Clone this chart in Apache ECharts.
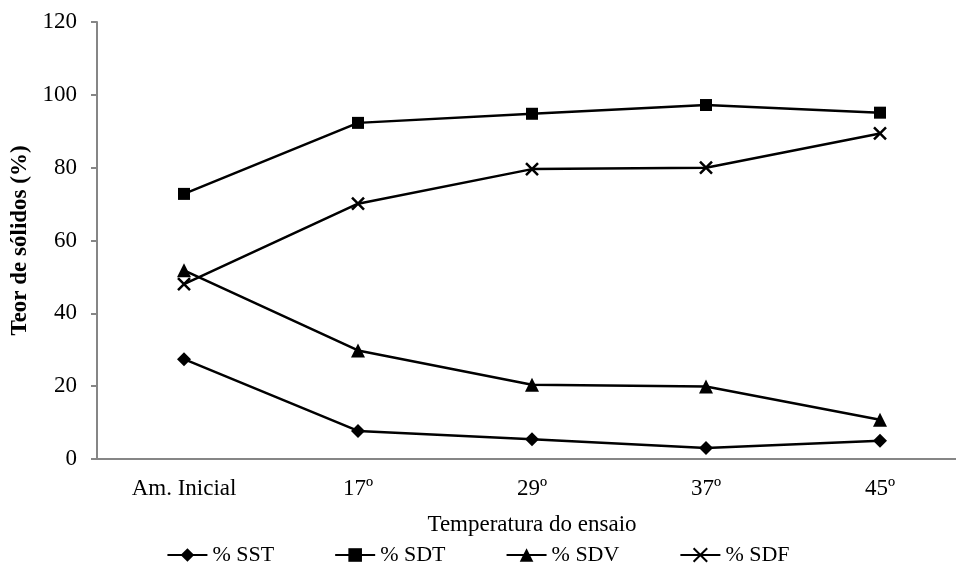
<!DOCTYPE html>
<html><head><meta charset="utf-8">
<script src="https://cdn.jsdelivr.net/npm/echarts@6/dist/echarts.min.js"></script>
<style>html,body{margin:0;padding:0;background:#fff}#c{width:956px;height:574px}</style>
</head><body><div id="c"></div>
<script>
var categories = ['Am. Inicial', '17º', '29º', '37º', '45º'];
var sst = [27.4, 7.7, 5.4, 3.0, 5.0];
var sdt = [72.8, 92.3, 94.8, 97.2, 95.1];
var sdv = [51.8, 29.8, 20.4, 19.9, 10.8];
var sdf = [48.0, 70.1, 79.6, 80.0, 89.4];
var seriesNames = ['% SST', '% SDT', '% SDV', '% SDF'];
var yTicks = {min: 0, max: 120, interval: 20};

var font = 'Liberation Serif';
var crossPath = 'path://M0,0 L10,10 M10,0 L0,10';
function mk(name, data, symbol, size, extra) {
  var s = {
    name: name, type: 'line', data: data, symbol: symbol, symbolSize: size,
    lineStyle: {color: '#000', width: 2.5}, itemStyle: {color: '#000'},
    emphasis: {disabled: true}, animation: false
  };
  if (extra) Object.assign(s, extra);
  return s;
}
var chart = echarts.init(document.getElementById('c'));
chart.setOption({
  animation: false,
  grid: {left: 97, right: -11, top: 22, bottom: 115, containLabel: false, outerBoundsMode: 'none'},
  xAxis: {
    type: 'category', data: categories,
    name: 'Temperatura do ensaio', nameLocation: 'middle', nameGap: 54,
    nameTextStyle: {fontFamily: font, fontSize: 23, color: '#000'},
    axisLine: {lineStyle: {color: '#868686', width: 2}},
    axisTick: {lineStyle: {color: '#868686', width: 2}, length: 6},
    axisLabel: {fontFamily: font, fontSize: 23, color: '#000', margin: 18}
  },
  yAxis: {
    type: 'value', min: yTicks.min, max: yTicks.max, interval: yTicks.interval,
    name: 'Teor de sólidos (%)', nameLocation: 'middle', nameGap: 62,
    nameTextStyle: {fontFamily: font, fontSize: 23, fontWeight: 'bold', color: '#000'},
    axisLine: {show: true, lineStyle: {color: '#868686', width: 2}},
    axisTick: {show: true, lineStyle: {color: '#868686', width: 2}, length: 6},
    axisLabel: {fontFamily: font, fontSize: 23, color: '#000', margin: 20},
    splitLine: {show: false}
  },
  legend: {
    bottom: 3, left: 'center', itemGap: 60, itemWidth: 40, itemHeight: 17,
    textStyle: {fontFamily: font, fontSize: 22, color: '#000'},
    data: seriesNames
  },
  series: [
    mk(seriesNames[0], sst, 'diamond', 14),
    mk(seriesNames[1], sdt, 'rect', 12),
    mk(seriesNames[2], sdv, 'triangle', 14),
    mk(seriesNames[3], sdf, crossPath, 12, {itemStyle: {color: 'none', borderColor: '#000', borderWidth: 2.5}})
  ]
});
</script></body></html>
